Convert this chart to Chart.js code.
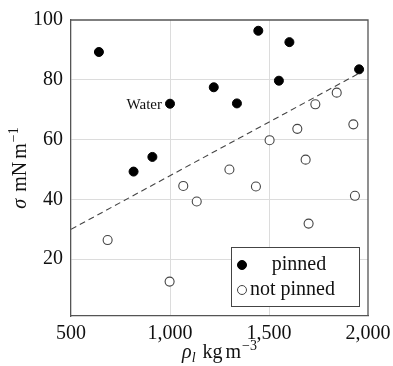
<!DOCTYPE html>
<html>
<head>
<meta charset="utf-8">
<script src="https://cdn.jsdelivr.net/npm/chart.js@4/dist/chart.umd.min.js"></script>
<style>
  html, body { margin: 0; padding: 0; background: #fff; }
  #wrap { width: 393px; height: 366px; }
</style>
</head>
<body>
<div id="wrap"><canvas id="chart" width="393" height="366"></canvas></div>
<script>
// density (kg m^-3) vs surface tension (mN m^-1)
const pinnedX = [641, 816, 911, 1000, 1221, 1338, 1446, 1550, 1603, 1955];
const pinnedY = [89.3, 49.3, 54.2, 72.0, 77.5, 72.1, 96.4, 79.7, 92.6, 83.5];
const notPinnedX = [685, 998, 1067, 1135, 1300, 1434, 1503, 1643, 1685, 1700, 1734, 1842, 1926, 1934];
const notPinnedY = [26.4, 12.5, 44.5, 39.3, 50.0, 44.3, 59.8, 63.6, 53.3, 31.9, 71.8, 75.7, 65.1, 41.2];
const lineX = [500, 1950];
const lineY = [30, 82];
const xTicks = [500, 1000, 1500, 2000];
const yTicks = [20, 40, 60, 80, 100];
const waterIndex = 3;

const serif = "'Liberation Serif', 'DejaVu Serif', serif";

const toPts = (xs, ys) => xs.map((x, i) => ({ x: x, y: ys[i] }));

// draws a run of [text, style] pieces starting at x, returns end x
function drawRuns(ctx, runs, x, y) {
    runs.forEach(r => {
        const size = r.small ? 14 : 20;
        ctx.font = (r.italic ? "italic " : "") + size + "px " + serif;
        ctx.fillText(r.t, x, y + (r.dy || 0));
        x += ctx.measureText(r.t).width + (r.gap || 0);
    });
    return x;
}
function runsWidth(ctx, runs) {
    let w = 0;
    runs.forEach(r => {
        ctx.font = (r.italic ? "italic " : "") + (r.small ? 14 : 20) + "px " + serif;
        w += ctx.measureText(r.t).width + (r.gap || 0);
    });
    return w;
}

const xTitle = [
    { t: "ρ", italic: true },
    { t: "l", italic: true, small: true, dy: 4, gap: 7 },
    { t: "kg", gap: 3 },
    { t: "m", gap: 1 },
    { t: "−3", small: true, dy: -8 }
];
const yTitle = [
    { t: "σ", italic: true, gap: 7 },
    { t: "mN", gap: 3 },
    { t: "m", gap: 1 },
    { t: "−1", small: true, dy: -8 }
];

// frame, axis titles, legend
const decor = {
    id: "decor",
    afterDraw(chart) {
        const ctx = chart.ctx;
        const a = chart.chartArea;
        ctx.save();
        ctx.strokeStyle = "#555";
        ctx.lineWidth = 1.3;
        ctx.beginPath();
        ctx.moveTo(a.left, a.top);
        ctx.lineTo(a.right, a.top);
        ctx.lineTo(a.right, a.bottom);
        ctx.stroke();

        ctx.fillStyle = "#111";
        ctx.textBaseline = "alphabetic";
        ctx.textAlign = "left";
        const xw = runsWidth(ctx, xTitle);
        drawRuns(ctx, xTitle, (a.left + a.right) / 2 - xw / 2, 358);

        ctx.save();
        ctx.translate(26, (a.top + a.bottom) / 2);
        ctx.rotate(-Math.PI / 2);
        const yw = runsWidth(ctx, yTitle);
        drawRuns(ctx, yTitle, -yw / 2, 0);
        ctx.restore();

        // legend box, bottom right inside plot
        const x0 = a.right - 137, y0 = a.bottom - 69, w = 128, h = 59;
        ctx.fillStyle = "#fff";
        ctx.fillRect(x0, y0, w, h);
        ctx.strokeStyle = "#444";
        ctx.lineWidth = 1;
        ctx.strokeRect(x0 + 0.5, y0 + 0.5, w, h);
        ctx.font = "20px " + serif;
        ctx.textBaseline = "middle";
        const sets = chart.data.datasets.filter(d => d.label);
        sets.forEach((d, i) => {
            const cy = y0 + 18 + i * 25;
            ctx.beginPath();
            ctx.arc(x0 + 11, cy, 4.5, 0, Math.PI * 2);
            ctx.fillStyle = d.backgroundColor;
            ctx.fill();
            ctx.strokeStyle = d.borderColor;
            ctx.lineWidth = 1;
            ctx.stroke();
            ctx.fillStyle = "#111";
            ctx.textAlign = i === 0 ? "center" : "left";
            ctx.fillText(d.label, i === 0 ? x0 + 68 : x0 + 19, cy);
        });
        ctx.restore();
    }
};

// "Water" annotation next to the water point
const waterLabel = {
    id: "waterLabel",
    afterDatasetsDraw(chart) {
        const ctx = chart.ctx;
        const px = chart.scales.x.getPixelForValue(pinnedX[waterIndex]);
        const py = chart.scales.y.getPixelForValue(pinnedY[waterIndex]);
        ctx.save();
        ctx.font = "15px " + serif;
        ctx.fillStyle = "#111";
        ctx.textAlign = "right";
        ctx.textBaseline = "middle";
        ctx.fillText("Water", px - 8, py + 1);
        ctx.restore();
    }
};

new Chart(document.getElementById("chart"), {
    type: "scatter",
    data: {
        datasets: [
            {
                label: "pinned",
                data: toPts(pinnedX, pinnedY),
                backgroundColor: "#000",
                borderColor: "#000",
                pointRadius: 4.5,
                pointBorderWidth: 1
            },
            {
                label: "not pinned",
                data: toPts(notPinnedX, notPinnedY),
                backgroundColor: "#fff",
                borderColor: "#444",
                pointRadius: 4.5,
                pointBorderWidth: 1.1
            },
            {
                label: "",
                type: "line",
                data: toPts(lineX, lineY),
                borderColor: "#444",
                borderWidth: 1.1,
                borderDash: [6, 4],
                pointRadius: 0,
                fill: false,
                order: 5
            }
        ]
    },
    options: {
        responsive: false,
        animation: false,
        layout: { padding: { top: 20, right: 25, left: 0, bottom: 0 } },
        plugins: {
            legend: { display: false },
            tooltip: { enabled: false }
        },
        scales: {
            x: {
                type: "linear",
                min: 500,
                max: 2000,
                afterBuildTicks(s) { s.ticks = xTicks.map(v => ({ value: v })); },
                afterFit(s) { s.height = 50; s.paddingLeft = 0; s.paddingRight = 0; },
                ticks: {
                    color: "#111",
                    font: { family: serif, size: 20 },
                    padding: 6,
                    callback: v => v.toLocaleString("en-US")
                },
                grid: {
                    color: ctx => (ctx.tick && (ctx.tick.value === 500 || ctx.tick.value === 2000)) ? "rgba(0,0,0,0)" : "#dcdcdc",
                    drawTicks: false
                },
                border: { color: "#555", width: 1.3 }
            },
            y: {
                type: "linear",
                min: 1,
                max: 100,
                afterBuildTicks(s) { s.ticks = yTicks.map(v => ({ value: v })); },
                afterFit(s) { s.width = 71; s.paddingTop = 0; s.paddingBottom = 0; },
                ticks: {
                    color: "#111",
                    font: { family: serif, size: 20 },
                    padding: 8
                },
                grid: {
                    color: ctx => (ctx.tick && ctx.tick.value === 100) ? "rgba(0,0,0,0)" : "#dcdcdc",
                    drawTicks: false
                },
                border: { color: "#555", width: 1.3 }
            }
        }
    },
    plugins: [waterLabel, decor]
});
</script>
</body>
</html>
